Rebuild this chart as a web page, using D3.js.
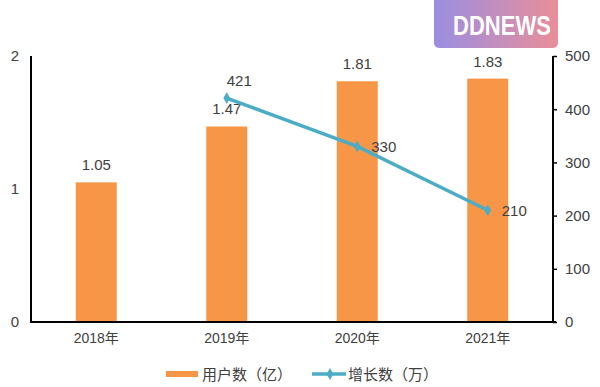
<!DOCTYPE html>
<html lang="zh">
<head>
<meta charset="utf-8">
<script src="https://d3js.org/d3.v7.min.js"></script>
<style>
  body { margin: 0; background: #fff; }
  text { font-family: "Liberation Sans", "Noto Sans CJK SC", sans-serif; fill: #404040; }
</style>
</head>
<body>
<div id="chart"></div>
<script>
// data
var years = ["2018年", "2019年", "2020年", "2021年"];
var users = [1.05, 1.47, 1.81, 1.83];           // 用户数（亿）
var growthYears = ["2019年", "2020年", "2021年"];
var growth = [421, 330, 210];                   // 增长数（万）
var leftTicks = [0, 1, 2];
var rightTicks = [0, 100, 200, 300, 400, 500];

var width = 600, height = 387;
var barColor = "#f79646", lineColor = "#4bacc6";

var svg = d3.select("#chart").append("svg")
    .attr("width", width)
    .attr("height", height);

var x = d3.scaleBand().domain(years).range([31, 553]);
var yL = d3.scaleLinear().domain([0, 2]).range([322, 56]);
var yR = d3.scaleLinear().domain([0, 500]).range([322, 56]);
var barW = 41;

// bars
svg.selectAll("rect.bar")
    .data(users)
    .enter().append("rect")
    .attr("class", "bar")
    .attr("x", (d, i) => x(years[i]) + x.bandwidth() / 2 - barW / 2)
    .attr("width", barW)
    .attr("y", d => yL(d))
    .attr("height", d => yL(0) - yL(d))
    .attr("fill", barColor);

svg.selectAll("text.barlabel")
    .data(users)
    .enter().append("text")
    .attr("x", (d, i) => x(years[i]) + x.bandwidth() / 2)
    .attr("y", d => yL(d) - 12)
    .attr("text-anchor", "middle")
    .style("font-size", "15px")
    .text(d => d.toFixed(2));

// axes
var left = svg.append("g").attr("transform", "translate(31,0)")
    .call(d3.axisLeft(yL).tickValues(leftTicks).tickSize(0).tickPadding(12).tickFormat(d3.format("d")));
var right = svg.append("g").attr("transform", "translate(553,0)")
    .call(d3.axisRight(yR).tickValues(rightTicks).tickSize(4).tickPadding(8));
var bottom = svg.append("g").attr("transform", "translate(0,322)")
    .call(d3.axisBottom(x).tickSize(0).tickPadding(11));

[left, right, bottom].forEach(function (g) {
    g.select(".domain").attr("stroke", "#000").attr("stroke-width", 2);
    g.selectAll(".tick line").attr("stroke", "#000").attr("stroke-width", 1.5);
    g.selectAll("text").style("font-size", "15px").attr("fill", "#404040");
});
bottom.select(".domain").attr("d", "M30,0H556");
left.select(".domain").attr("d", "M0,56V322");
right.select(".domain").attr("d", "M0,56V322");
bottom.selectAll("text").style("font-size", "14px");

// line
var cx = d => x(d) + x.bandwidth() / 2;
var line = d3.line()
    .x((d, i) => cx(growthYears[i]))
    .y(d => yR(d));

svg.append("path")
    .datum(growth)
    .attr("d", line)
    .attr("fill", "none")
    .attr("stroke", lineColor)
    .attr("stroke-width", 3.5);

svg.selectAll("path.marker")
    .data(growth)
    .enter().append("path")
    .attr("class", "marker")
    .attr("d", d3.symbol(d3.symbolDiamond, 40))
    .attr("transform", (d, i) => "translate(" + cx(growthYears[i]) + "," + yR(d) + ")")
    .attr("fill", lineColor);

var labelOffsets = [[0, -12], [14, 6], [14, 6]];
svg.selectAll("text.linelabel")
    .data(growth)
    .enter().append("text")
    .attr("x", (d, i) => cx(growthYears[i]) + labelOffsets[i][0])
    .attr("y", (d, i) => yR(d) + labelOffsets[i][1])
    .attr("text-anchor", "start")
    .style("font-size", "15px")
    .text(d => d);

// legend
var lg = svg.append("g");
lg.append("rect").attr("x", 166).attr("y", 371).attr("width", 32).attr("height", 6).attr("fill", barColor);
lg.append("text").attr("x", 202).attr("y", 380).style("font-size", "15px").text("用户数（亿）");
lg.append("line").attr("x1", 312).attr("x2", 346).attr("y1", 374).attr("y2", 374)
    .attr("stroke", lineColor).attr("stroke-width", 3.5);
lg.append("path").attr("d", d3.symbol(d3.symbolDiamond, 40))
    .attr("transform", "translate(330,374)").attr("fill", lineColor);
lg.append("text").attr("x", 348).attr("y", 380).style("font-size", "15px").text("增长数（万）");

// watermark
var defs = svg.append("defs");
var grad = defs.append("linearGradient").attr("id", "wm");
grad.append("stop").attr("offset", "0%").attr("stop-color", "#9a8ee2");
grad.append("stop").attr("offset", "100%").attr("stop-color", "#ea8e98");
svg.append("rect").attr("x", 434).attr("y", -6).attr("width", 124).attr("height", 54)
    .attr("rx", 5).attr("fill", "url(#wm)");
svg.append("text").attr("x", 453).attr("y", 35)
    .attr("textLength", 98).attr("lengthAdjust", "spacingAndGlyphs")
    .style("font-size", "28px").style("font-weight", "bold")
    .style("fill", "#fff").style("font-family", "'Liberation Sans Narrow', 'Liberation Sans', sans-serif")
    .text("DDNEWS");
</script>
</body>
</html>
